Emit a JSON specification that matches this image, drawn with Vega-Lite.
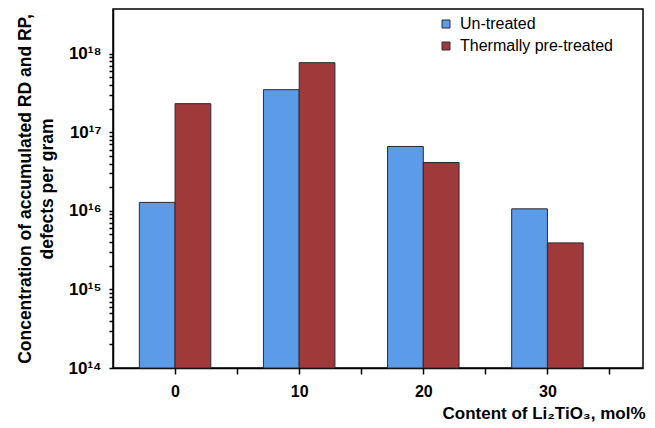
{
  "$schema": "https://vega.github.io/schema/vega-lite/v6.json",
  "autosize": {"type": "none"},
  "padding": {"left": 113, "top": 9, "right": 12, "bottom": 60},
  "width": 530,
  "height": 359,
  "background": "white",
  "config": {
    "font": "Liberation Sans",
    "view": {"stroke": "black", "strokeWidth": 1.5},
    "axis": {"grid": false, "domainColor": "black", "domainWidth": 1.5, "tickColor": "black", "tickWidth": 1.5, "labelColor": "black", "titleColor": "black"}
  },
  "data": {
    "values": [
      {"content": 0, "treatment": "Un-treated", "value": 1.28e16},
      {"content": 0, "treatment": "Thermally pre-treated", "value": 2.31e17},
      {"content": 10, "treatment": "Un-treated", "value": 3.48e17},
      {"content": 10, "treatment": "Thermally pre-treated", "value": 7.68e17},
      {"content": 20, "treatment": "Un-treated", "value": 6.59e16},
      {"content": 20, "treatment": "Thermally pre-treated", "value": 4.12e16},
      {"content": 30, "treatment": "Un-treated", "value": 1.06e16},
      {"content": 30, "treatment": "Thermally pre-treated", "value": 3.91e15}
    ]
  },
  "transform": [
    {"calculate": "datum.treatment === 'Un-treated' ? datum.content - 2.88 : datum.content", "as": "x0"},
    {"calculate": "datum.x0 + 2.88", "as": "x1"}
  ],
  "mark": {"type": "bar", "stroke": "#2a2a35", "strokeWidth": 1},
  "encoding": {
    "x": {
      "field": "x0",
      "type": "quantitative",
      "scale": {"domain": [-5, 37.7], "nice": false, "zero": false},
      "axis": {
        "values": [0, 5, 10, 15, 20, 25, 30, 35],
        "labelExpr": "datum.value % 10 === 0 ? datum.label : ''",
        "labelFontSize": 16,
        "labelFontWeight": "bold",
        "labelPadding": 9,
        "tickSize": 6,
        "title": "Content of Li₂TiO₃, mol%",
        "titleFontSize": 17,
        "titleFontWeight": "bold",
        "titleAnchor": "end",
        "titleAlign": "right",
        "titleX": 532,
        "titlePadding": 6
      }
    },
    "x2": {"field": "x1"},
    "y": {
      "field": "value",
      "type": "quantitative",
      "scale": {"type": "log", "domain": [1e14, 3.7e18], "nice": false},
      "axis": {
        "values": [1e14, 2e14, 3e14, 4e14, 5e14, 6e14, 7e14, 8e14, 9e14,
                   1e15, 2e15, 3e15, 4e15, 5e15, 6e15, 7e15, 8e15, 9e15,
                   1e16, 2e16, 3e16, 4e16, 5e16, 6e16, 7e16, 8e16, 9e16,
                   1e17, 2e17, 3e17, 4e17, 5e17, 6e17, 7e17, 8e17, 9e17, 1e18],
        "labelExpr": "abs(log(datum.value)/LN10 - round(log(datum.value)/LN10)) < 0.001 ? '10' + ['¹⁴','¹⁵','¹⁶','¹⁷','¹⁸'][round(log(datum.value)/LN10) - 14] : ''",
        "labelFontSize": 17,
        "labelFontWeight": "bold",
        "labelPadding": 8,
        "tickSize": 4,
        "title": ["Concentration of accumulated RD and RP,", "defects per gram"],
        "titleFontSize": 17.5,
        "titleFontWeight": "bold",
        "titleLineHeight": 22,
        "titlePadding": 12
      }
    },
    "y2": {"datum": 1e14},
    "color": {
      "field": "treatment",
      "type": "nominal",
      "scale": {"domain": ["Un-treated", "Thermally pre-treated"], "range": ["#5b9be8", "#a03a3a"]},
      "legend": {
        "orient": "none",
        "legendX": 325,
        "legendY": 7,
        "title": null,
        "padding": 0,
        "symbolType": "square",
        "symbolSize": 64,
        "symbolStrokeColor": "#2a2a35",
        "symbolStrokeWidth": 1,
        "labelFontSize": 16,
        "labelColor": "black",
        "rowPadding": 6,
        "labelOffset": 6
      }
    }
  }
}
